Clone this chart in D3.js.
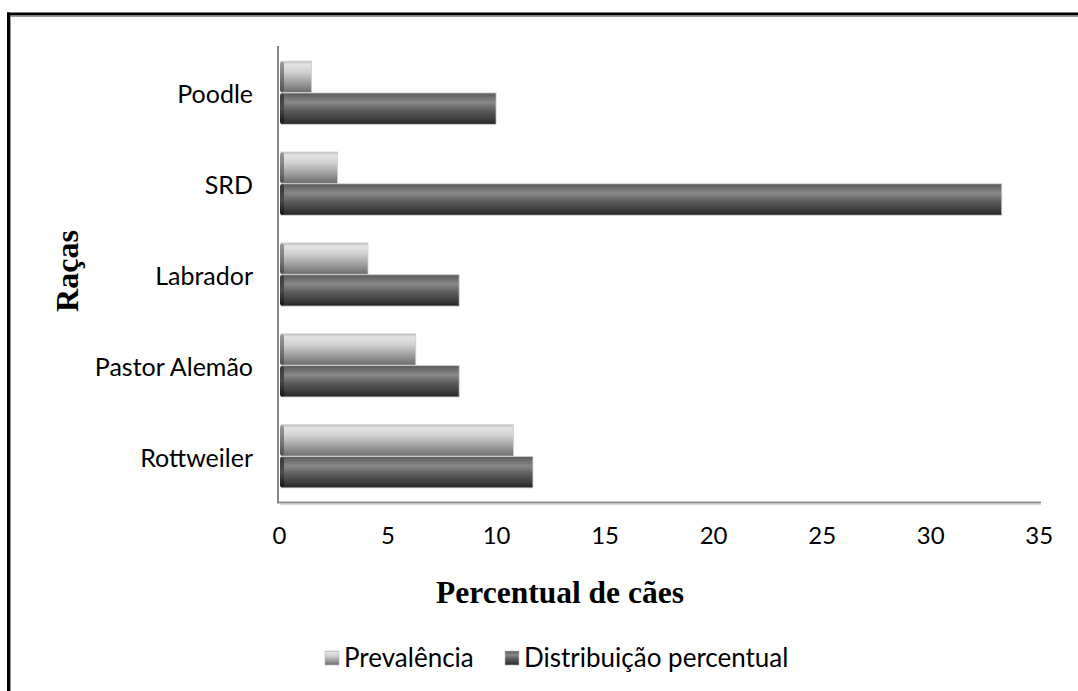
<!DOCTYPE html>
<html>
<head>
<meta charset="utf-8">
<script src="https://cdn.jsdelivr.net/npm/d3@7"></script>
<style>
  html, body { margin: 0; padding: 0; background: #fff; }
  svg { display: block; }
</style>
</head>
<body>
<svg id="chart" width="1078" height="691"></svg>
<script>
// Breeds, top to bottom
const categories = ["Poodle", "SRD", "Labrador", "Pastor Alemão", "Rottweiler"];
const seriesNames = ["Prevalência", "Distribuição percentual"];
const prevalencia = [1.5, 2.7, 4.1, 6.3, 10.8];
const distribuicao = [10.0, 33.3, 8.3, 8.3, 11.7];
const xTicks = [0, 5, 10, 15, 20, 25, 30, 35];

const svg = d3.select("#chart");
const W = 1078, H = 691;

// Page frame (heavy black border with a grey inner rule)
svg.append("line").attr("x1", 8.5).attr("y1", 12.5).attr("x2", 8.5).attr("y2", H)
  .attr("stroke", "#000").attr("stroke-width", 3);
svg.append("line").attr("x1", 7).attr("y1", 14).attr("x2", W).attr("y2", 14)
  .attr("stroke", "#000").attr("stroke-width", 3);
svg.append("line").attr("x1", 10.5).attr("y1", 16).attr("x2", 10.5).attr("y2", H)
  .attr("stroke", "#9a9a9a").attr("stroke-width", 1);
svg.append("line").attr("x1", 10).attr("y1", 16.5).attr("x2", W).attr("y2", 16.5)
  .attr("stroke", "#9a9a9a").attr("stroke-width", 1);

// Gradients for the cylinder-like bars
const defs = svg.append("defs");
function grad(id, stops) {
  const g = defs.append("linearGradient").attr("id", id)
    .attr("x1", 0).attr("y1", 0).attr("x2", 0).attr("y2", 1);
  stops.forEach(([o, c]) => g.append("stop").attr("offset", o).attr("stop-color", c));
}
grad("gPrev", [["0%", "#bcbcbc"], ["10%", "#e4e4e4"], ["35%", "#d0d0d0"], ["70%", "#9c9c9c"], ["100%", "#6c6c6c"]]);
grad("gDist", [["0%", "#5a5a5a"], ["30%", "#888888"], ["55%", "#5e5e5e"], ["85%", "#3a3a3a"], ["100%", "#242424"]]);
grad("gPrevCap", [["0%", "#9a9a9a"], ["50%", "#7a7a7a"], ["100%", "#505050"]]);
grad("gDistCap", [["0%", "#3a3a3a"], ["50%", "#4a4a4a"], ["100%", "#151515"]]);

const fills = ["url(#gPrev)", "url(#gDist)"];
const capFills = ["url(#gPrevCap)", "url(#gDistCap)"];

// Scales
const x = d3.scaleLinear().domain([0, 35]).range([279, 1038.7]);
const y = d3.scaleBand().domain(categories).range([47.5, 502])
  .paddingInner(0.3).paddingOuter(0.15);
const ySub = d3.scaleBand().domain(seriesNames).range([0, y.bandwidth()]);

const rows = categories.map((c, i) => ({ cat: c, vals: [prevalencia[i], distribuicao[i]] }));

// Axis lines (grey L)
svg.append("line").attr("x1", 278).attr("y1", 46).attr("x2", 278).attr("y2", 503)
  .attr("stroke", "#8a8a8a").attr("stroke-width", 2);
svg.append("line").attr("x1", 277).attr("y1", 502.5).attr("x2", 1041).attr("y2", 502.5)
  .attr("stroke", "#8a8a8a").attr("stroke-width", 2);
svg.append("line").attr("x1", 280).attr("y1", 504.5).attr("x2", 1041).attr("y2", 504.5)
  .attr("stroke", "#d8d8d8").attr("stroke-width", 1);

// Bars
const groups = svg.append("g").selectAll("g").data(rows).join("g")
  .attr("transform", d => `translate(0,${y(d.cat)})`);

groups.each(function (d) {
  const g = d3.select(this);
  d.vals.forEach((v, j) => {
    const y0 = ySub(seriesNames[j]);
    const h = ySub.bandwidth() - 0.5;
    const x0 = x(0) + 2;
    g.append("rect")
      .attr("x", x0).attr("y", y0).attr("width", x(v) - x0).attr("height", h)
      .attr("fill", fills[j]).attr("stroke", "#cfcfcf").attr("stroke-width", 0.8);
    g.append("rect")
      .attr("x", x0 - 1).attr("y", y0 + 0.5).attr("width", 4).attr("height", h - 1)
      .attr("rx", 2).attr("fill", capFills[j]);
  });
});

// Category labels
const font = "Lato, 'Open Sans', sans-serif";
svg.append("g").selectAll("text").data(categories).join("text")
  .attr("x", 253).attr("y", d => y(d) + y.bandwidth() / 2 + 10)
  .attr("text-anchor", "end").attr("font-family", font).attr("font-size", 25)
  .attr("fill", "#000").text(d => d);

// X tick labels
const xAxis = d3.axisBottom(x).tickValues(xTicks).tickSize(0).tickPadding(0);
const gx = svg.append("g").attr("transform", "translate(0,527)").call(xAxis);
gx.select(".domain").remove();
gx.selectAll("text").attr("font-family", font).attr("font-size", 24)
  .attr("fill", "#000").attr("dy", "0.72em");

// Axis titles
svg.append("text").attr("x", 560).attr("y", 603).attr("text-anchor", "middle")
  .attr("font-family", "'Liberation Serif', 'Times New Roman', serif")
  .attr("font-weight", "bold").attr("font-size", 31.5).text("Percentual de cães");
svg.append("text").attr("transform", "translate(78,271) rotate(-90)")
  .attr("text-anchor", "middle")
  .attr("font-family", "'Liberation Serif', 'Times New Roman', serif")
  .attr("font-weight", "bold").attr("font-size", 32).text("Raças");

// Legend
const legendX = [325, 505];
const leg = svg.append("g").selectAll("g").data(seriesNames).join("g")
  .attr("transform", (d, i) => `translate(${legendX[i]},651)`);
leg.append("rect").attr("width", 14).attr("height", 14)
  .attr("fill", (d, i) => fills[i]).attr("stroke", "#bdbdbd").attr("stroke-width", 0.6);
leg.append("text").attr("x", 19).attr("y", 16)
  .attr("font-family", font).attr("font-size", 26).attr("fill", "#000").text(d => d);
</script>
</body>
</html>
